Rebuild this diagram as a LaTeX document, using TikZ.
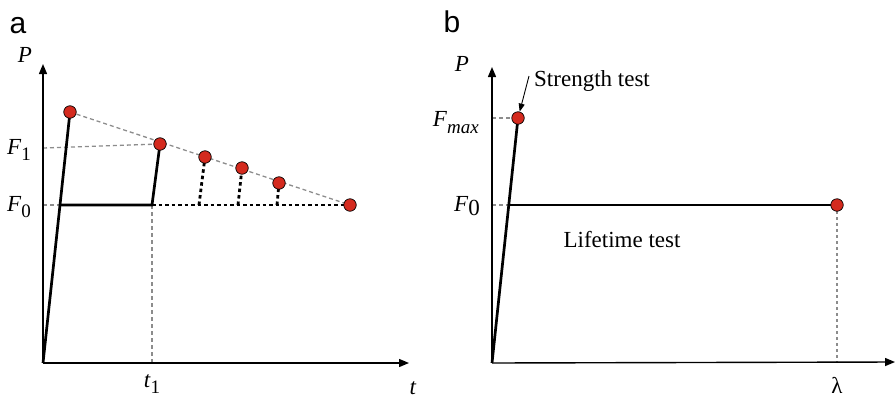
\documentclass[tikz,border=0pt]{standalone}
\usepackage{fontspec}
\setmainfont{Liberation Serif}
\newfontfamily\labelsans{Liberation Sans}
\usetikzlibrary{arrows.meta}
\definecolor{dotred}{HTML}{D42A1E}
\definecolor{guidegray}{HTML}{8C8C8C}
\tikzset{
  dotnode/.style={circle, fill=dotred, draw=black, line width=0.7pt, inner sep=0pt, minimum size=12.5pt},
  axisline/.style={line width=1.4pt, -{Triangle[length=10pt,width=8pt]}},
  loadline/.style={line width=2.7pt},
  guideline/.style={guidegray, line width=1.3pt, dash pattern=on 4pt off 3pt},
  blkdotted/.style={line width=2.8pt, dash pattern=on 3.5pt off 3pt},
  panellabel/.style={font=\labelsans\fontsize{30}{30}\selectfont, inner sep=0pt},
  varlabel/.style={font=\fontsize{23}{23}\selectfont, inner sep=0pt},
  txtlabel/.style={font=\fontsize{23}{23}\selectfont, inner sep=0pt}
}
\begin{document}
\begin{tikzpicture}[x=1pt,y=-1pt]
\useasboundingbox (0,0) rectangle (896,399);
% ---------- panel a ----------
\node[panellabel] (la) at (18,26) {a};
\coordinate (oa) at (43,363);
\coordinate (ya) at (43,64);
\coordinate (xa) at (409,363);
\coordinate (a1) at (70,112);
\coordinate (a2) at (160,144);
\coordinate (a3) at (205,157);
\coordinate (a4) at (242,168);
\coordinate (a5) at (279,183);
\coordinate (a6) at (350,205);
\coordinate (aF1) at (43,148);
\coordinate (aF0) at (43,205);
\coordinate (aI) at (60,205);
\coordinate (aT) at (152,205);
\coordinate (aT0) at (152,363);
\coordinate (b3) at (199,205);
\coordinate (b4) at (238,205);
\coordinate (b5) at (277,205);
% guides
\draw[guideline] (a1) -- (a6);
\draw[guideline] (aF1) -- (a2);
\draw[guideline] (aF0) -- (aI);
\draw[guideline] (aT) -- (aT0);
% dotted black
\draw[blkdotted] (aT) -- (a6);
\draw[blkdotted] (b3) -- (a3);
\draw[blkdotted] (b4) -- (a4);
\draw[blkdotted] (b5) -- (a5);
% solid load
\draw[loadline] (oa) -- (a1);
\draw[loadline] (aI) -- (aT) -- (a2);
% axes
\draw[axisline] (oa) -- (ya);
\draw[axisline] (oa) -- (xa);
% dots
\foreach \n in {a1,a2,a3,a4,a5,a6} \node[dotnode] (d\n) at (\n) {};
% labels
\node[varlabel] (Pa) at (25,55) {\textit{P}};
\node[varlabel, anchor=east] (F1a) at (31,150) {\textit{F}\raisebox{-0.28em}{\fontsize{19}{19}\selectfont 1}};
\node[varlabel, anchor=east] (F0a) at (31,207) {\textit{F}\raisebox{-0.28em}{\fontsize{19}{19}\selectfont 0}};
\node[varlabel] (t1a) at (152,384) {\textit{t}\raisebox{-0.28em}{\fontsize{19}{19}\selectfont 1}};
\node[varlabel] (ta) at (413,388) {\textit{t}};
% ---------- panel b ----------
\node[panellabel] (lb) at (452,22) {b};
\coordinate (ob) at (492,363);
\coordinate (yb) at (492,67);
\coordinate (xb) at (895,362);
\coordinate (m1) at (518,118);
\coordinate (m2) at (837,205);
\coordinate (bFm) at (492,118);
\coordinate (bF0) at (492,205);
\coordinate (bI) at (509,205);
\coordinate (bL) at (837,362);
\draw[guideline] (bFm) -- (m1);
\draw[guideline] (bF0) -- (bI);
\draw[guideline, dash pattern=on 3pt off 3pt] (m2) -- (bL);
\draw[loadline] (ob) -- (m1);
\draw[loadline] (bI) -- (m2);
\draw[axisline] (ob) -- (yb);
\draw[axisline] (ob) -- (xb);
\node[dotnode] (dm1) at (m1) {};
\node[dotnode] (dm2) at (m2) {};
\node[varlabel] (Pb) at (462,64) {\textit{P}};
\node[varlabel, anchor=east] (Fmb) at (479,123) {\textit{F}\raisebox{-0.3em}{\fontsize{19}{19}\selectfont\textit{max}}};
\node[varlabel, anchor=east] (F0b) at (480,206) {\textit{F}\raisebox{-0.15em}{0}};
\node[varlabel] (lam) at (837,385) {λ};
\node[txtlabel, anchor=west] (st) at (534,81) {Strength test};
\node[txtlabel] (lt) at (622,240) {Lifetime test};
\coordinate (sa) at (529,76);
\draw[line width=0.9pt, -{Triangle[length=8pt,width=6pt]}] (sa) -- (dm1);
\end{tikzpicture}
\end{document}
